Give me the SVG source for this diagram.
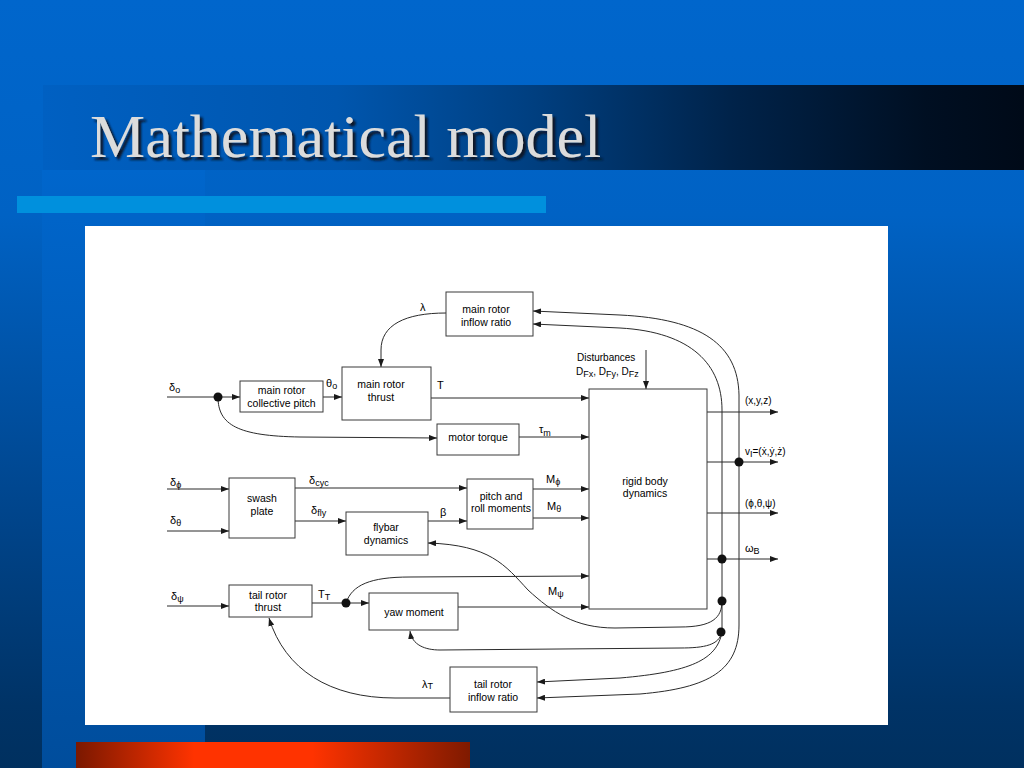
<svg xmlns="http://www.w3.org/2000/svg" width="1024" height="768" viewBox="0 0 1024 768">
<defs>
<linearGradient id="bg" x1="0" y1="0" x2="0" y2="1">
<stop offset="0" stop-color="#0066cc"/>
<stop offset="0.28" stop-color="#0062c4"/>
<stop offset="0.65" stop-color="#00468e"/>
<stop offset="0.92" stop-color="#003366"/>
<stop offset="1" stop-color="#00305f"/>
</linearGradient>
<linearGradient id="strip" x1="0" y1="0" x2="0" y2="1">
<stop offset="0" stop-color="#0066cc"/>
<stop offset="0.35" stop-color="#005dbb"/>
<stop offset="1" stop-color="#004d9c"/>
</linearGradient>
<linearGradient id="band" x1="0" y1="0" x2="1" y2="0">
<stop offset="0" stop-color="#0060c2"/>
<stop offset="0.3" stop-color="#0056ae"/>
<stop offset="0.5" stop-color="#003f80"/>
<stop offset="0.7" stop-color="#00234a"/>
<stop offset="0.9" stop-color="#000f22"/>
<stop offset="1" stop-color="#000a18"/>
</linearGradient>
<linearGradient id="red" x1="0" y1="0" x2="1" y2="0">
<stop offset="0" stop-color="#7a1800"/>
<stop offset="0.3" stop-color="#ff3300"/>
<stop offset="0.6" stop-color="#ff3300"/>
<stop offset="1" stop-color="#7f1a00"/>
</linearGradient>
<filter id="shadow" x="-5%" y="-20%" width="115%" height="150%">
<feDropShadow dx="3" dy="3" stdDeviation="0.8" flood-color="#0a1428" flood-opacity="1"/>
</filter>
<marker id="ah" viewBox="0 0 8 6" refX="8" refY="3" markerWidth="8" markerHeight="6" markerUnits="userSpaceOnUse" orient="auto">
<path d="M0,0 L8,3 L0,6 z" fill="#1a1a1a"/>
</marker>
<style>
.box{fill:#fff;stroke:#3a3a3a;stroke-width:1}
.t{font-family:"Liberation Sans",Arial,sans-serif;font-size:10.5px;fill:#000;text-anchor:middle}
.l{font-family:"Liberation Sans",Arial,sans-serif;font-size:11px;fill:#000}
.s{font-size:9px}
.c{fill:none;stroke:#2a2a2a;stroke-width:1}
.a{marker-end:url(#ah)}
.dot{fill:#111}
.title{font-family:"Liberation Serif","Times New Roman",serif;font-size:62px}
</style>
</defs>

<!-- slide background -->
<rect x="0" y="0" width="1024" height="768" fill="url(#bg)"/>
<rect x="42" y="170" width="163" height="598" fill="url(#strip)"/>
<rect x="43" y="85" width="981" height="85" fill="url(#band)"/>
<text class="title" x="90" y="157" fill="#dcdcdc" filter="url(#shadow)">Mathematical model</text>
<rect x="17" y="196" width="529" height="17" fill="#0090dd"/>
<rect x="76" y="742" width="394" height="26" fill="url(#red)"/>

<!-- white panel -->
<rect x="85" y="226" width="803" height="499" fill="#ffffff"/>

<!-- connectors -->
<g id="connectors">
<path class="c a" d="M167,397 H240"/>
<path class="c a" d="M323,397 H342"/>
<path class="c a" d="M431,398 H589"/>
<path class="c a" d="M218,397 C218,425 238,436 300,437 L437,438"/>
<path class="c a" d="M519,437 H589"/>
<path class="c a" d="M446,313 C405,313 381,325 381,350 L381,367"/>
<path class="c a" d="M646,350 V389"/>
<path class="c a" d="M167,489 H229"/>
<path class="c a" d="M167,531 H229"/>
<path class="c a" d="M295,488 H467"/>
<path class="c a" d="M295,521 H346"/>
<path class="c a" d="M428,521 H467"/>
<path class="c a" d="M533,489 H589"/>
<path class="c a" d="M533,518 H589"/>
<path class="c a" d="M167,606 H229"/>
<path class="c a" d="M312,603 H369"/>
<path class="c a" d="M346,603 C352,585 370,577 410,577 L589,576"/>
<path class="c a" d="M458,607 H589"/>
<path class="c a" d="M707,412 H778"/>
<path class="c a" d="M707,462 H778"/>
<path class="c a" d="M707,513 H778"/>
<path class="c a" d="M707,559 H778"/>
<!-- feedback loops -->
<path class="c a" d="M739,462 V395 C738,345 702,319 620,315 L533,311"/>
<path class="c a" d="M739,462 V625 C739,670 710,688 640,694 L537,698"/>
<path class="c a" d="M722,559 V410 C722,365 692,332 620,328 L533,324"/>
<path class="c" d="M722,559 V632"/>
<path class="c a" d="M722,601 C722,618 712,627 680,627 L615,628 C575,628 552,612 528,590 C505,565 490,545 428,543"/>
<path class="c a" d="M722,632 C719,645 705,648 680,648 L440,650 C425,650 412,645 410,631"/>
<path class="c a" d="M722,632 C717,660 690,672 620,678 L537,682"/>
<path class="c a" d="M450,698 L395,698 C330,698 285,670 269,618"/>
<circle class="dot" cx="218" cy="397" r="4.5"/>
<circle class="dot" cx="346" cy="603" r="4.5"/>
<circle class="dot" cx="739" cy="462" r="4.5"/>
<circle class="dot" cx="722" cy="559" r="4.5"/>
<circle class="dot" cx="722" cy="601" r="4.5"/>
<circle class="dot" cx="721" cy="632" r="4.5"/>
</g>

<!-- nodes -->
<g id="collective">
<rect class="box" x="240" y="381" width="83" height="31"/>
<text class="t" x="281.5" y="394">main rotor</text>
<text class="t" x="281.5" y="407">collective pitch</text>
</g>
<g id="thrust">
<rect class="box" x="342" y="367" width="89" height="53"/>
<text class="t" x="381" y="388">main rotor</text>
<text class="t" x="381" y="401">thrust</text>
</g>
<g id="inflow">
<rect class="box" x="446" y="292" width="87" height="44"/>
<text class="t" x="486" y="313">main rotor</text>
<text class="t" x="486" y="326">inflow ratio</text>
</g>
<g id="motortorque">
<rect class="box" x="437" y="424" width="82" height="31"/>
<text class="t" x="478" y="441">motor torque</text>
</g>
<g id="swash">
<rect class="box" x="229" y="478" width="66" height="60"/>
<text class="t" x="262" y="502">swash</text>
<text class="t" x="262" y="515">plate</text>
</g>
<g id="flybar">
<rect class="box" x="346" y="512" width="82" height="43"/>
<text class="t" x="386" y="531">flybar</text>
<text class="t" x="386" y="544">dynamics</text>
</g>
<g id="pitchroll">
<rect class="box" x="467" y="479" width="66" height="50"/>
<text class="t" x="501" y="500">pitch and</text>
<text class="t" x="501" y="512">roll moments</text>
</g>
<g id="rigid">
<rect class="box" x="589" y="389" width="118" height="220"/>
<text class="t" x="645" y="485">rigid body</text>
<text class="t" x="645" y="497">dynamics</text>
</g>
<g id="tailthrust">
<rect class="box" x="229" y="585" width="83" height="32"/>
<text class="t" x="268" y="599">tail rotor</text>
<text class="t" x="268" y="611">thrust</text>
</g>
<g id="yaw">
<rect class="box" x="369" y="593" width="89" height="37"/>
<text class="t" x="414" y="616">yaw moment</text>
</g>
<g id="tailinflow">
<rect class="box" x="450" y="667" width="87" height="45"/>
<text class="t" x="493" y="688">tail rotor</text>
<text class="t" x="493" y="701">inflow ratio</text>
</g>

<!-- labels -->
<g id="labels">
<text class="l" x="169" y="391">δ<tspan class="s" dy="2">o</tspan></text>
<text class="l" x="326" y="387">θ<tspan class="s" dy="2">o</tspan></text>
<text class="l" x="437" y="389">T</text>
<text class="l" x="420" y="311">λ</text>
<text class="l" x="539" y="433">τ<tspan class="s" dy="3">m</tspan></text>
<text class="l" x="577" y="361" style="font-size:10px">Disturbances</text>
<text class="l" x="576" y="375" style="font-size:10px">D<tspan class="s" dy="2">Fx</tspan><tspan dy="-2">, D</tspan><tspan class="s" dy="2">Fy</tspan><tspan dy="-2">, D</tspan><tspan class="s" dy="2">Fz</tspan></text>
<text class="l" x="745" y="404" style="font-size:10px">(x,y,z)</text>
<text class="l" x="745" y="455" style="font-size:10px">v<tspan class="s" dy="2">I</tspan><tspan dy="-2">=(ẋ,ẏ,ż)</tspan></text>
<text class="l" x="745" y="507" style="font-size:10px">(ϕ,θ,ψ)</text>
<text class="l" x="745" y="552">ω<tspan class="s" dy="2">B</tspan></text>
<text class="l" x="170" y="486">δ<tspan class="s" dy="2">ϕ</tspan></text>
<text class="l" x="170" y="524">δ<tspan class="s" dy="2">θ</tspan></text>
<text class="l" x="309" y="484">δ<tspan class="s" dy="2">cyc</tspan></text>
<text class="l" x="311" y="514">δ<tspan class="s" dy="2">fly</tspan></text>
<text class="l" x="440" y="516">β</text>
<text class="l" x="546" y="483">M<tspan class="s" dy="2">ϕ</tspan></text>
<text class="l" x="547" y="510">M<tspan class="s" dy="2">θ</tspan></text>
<text class="l" x="548" y="595">M<tspan class="s" dy="2">ψ</tspan></text>
<text class="l" x="171" y="600">δ<tspan class="s" dy="2">ψ</tspan></text>
<text class="l" x="318" y="598">T<tspan class="s" dy="2">T</tspan></text>
<text class="l" x="422" y="688">λ<tspan class="s" dy="1">T</tspan></text>
</g>
</svg>
